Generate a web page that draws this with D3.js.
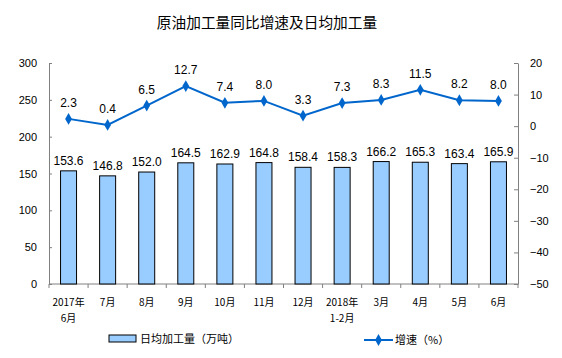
<!DOCTYPE html>
<html><head><meta charset="utf-8">
<script src="https://cdn.jsdelivr.net/npm/d3@7"></script>
<style>body{margin:0;background:#fff}svg{display:block}</style>
</head><body><svg id="c" width="562" height="358"></svg>
<script>
const categories = [["2017年","6月"],["7月"],["8月"],["9月"],["10月"],["11月"],["12月"],["2018年","1-2月"],["3月"],["4月"],["5月"],["6月"]];
const output = [153.6,146.8,152.0,164.5,162.9,164.8,158.4,158.3,166.2,165.3,163.4,165.9];
const growth = [2.3,0.4,6.5,12.7,7.4,8.0,3.3,7.3,8.3,11.5,8.2,8.0];
const leftTicks = [0,50,100,150,200,250,300];
const rightTicks = [-50,-40,-30,-20,-10,0,10,20];

const svg = d3.select("#c");
const L = 49, R = 518, T = 63, B = 284;
const font = "Arial, 'Liberation Sans', 'Noto Sans CJK SC', sans-serif";
const cjk = "'Noto Sans CJK SC', sans-serif";
const idx = d3.range(categories.length);
const x = d3.scaleBand().domain(idx).range([L, R]);
const yL = d3.scaleLinear().domain([0,300]).range([B, T]);
const yR = d3.scaleLinear().domain([-50,20]).range([B, T]);

svg.append("text").attr("x",267).attr("y",28).attr("text-anchor","middle")
  .attr("font-family",cjk).attr("font-size",14.7).attr("fill","#000").text("原油加工量同比增速及日均加工量");

// left axis
const gL = svg.append("g").attr("transform",`translate(${L},0)`)
  .call(d3.axisLeft(yL).tickValues(leftTicks).tickSize(-3).tickPadding(12).tickSizeOuter(0));
gL.select(".domain").attr("stroke","#808080");
gL.selectAll(".tick line").attr("stroke","#808080");
gL.selectAll("text").attr("font-family",font).attr("font-size",11).attr("fill","#000");

const gR = svg.append("g").attr("transform",`translate(${R},0)`)
  .call(d3.axisRight(yR).tickValues(rightTicks).tickSize(-4).tickPadding(12).tickSizeOuter(0));
gR.select(".domain").attr("stroke","#808080");
gR.selectAll(".tick line").attr("stroke","#808080");
gR.selectAll("text").attr("font-family",font).attr("font-size",11).attr("fill","#000");

// x axis
svg.append("line").attr("x1",L).attr("x2",R).attr("y1",B).attr("y2",B).attr("stroke","#808080");
svg.append("g").selectAll("line").data(d3.range(categories.length+1)).join("line")
  .attr("x1",i=>L+i*x.step()).attr("x2",i=>L+i*x.step()).attr("y1",B).attr("y2",B+4).attr("stroke","#808080");

// bars
const bw = 16;
svg.append("g").selectAll("rect").data(output).join("rect")
  .attr("x",(d,i)=>x(i)+x.bandwidth()/2-bw/2).attr("width",bw)
  .attr("y",d=>yL(d)).attr("height",d=>B-yL(d))
  .attr("fill","#99CCFF").attr("stroke","#000").attr("stroke-width",1);
svg.append("g").selectAll("text").data(output).join("text")
  .attr("x",(d,i)=>x(i)+x.bandwidth()/2).attr("y",d=>yL(d)-6)
  .attr("text-anchor","middle").attr("font-family",font).attr("font-size",12).attr("fill","#000")
  .text(d=>d.toFixed(1));

// line
const line = d3.line().x((d,i)=>x(i)+x.bandwidth()/2).y(d=>yR(d));
svg.append("path").datum(growth).attr("d",line).attr("fill","none").attr("stroke","#0066CC").attr("stroke-width",2);
const diamond = d3.symbol().type(d3.symbolDiamond).size(40);
svg.append("g").selectAll("path").data(growth).join("path")
  .attr("transform",(d,i)=>`translate(${x(i)+x.bandwidth()/2},${yR(d)})`)
  .attr("d",diamond).attr("fill","#0066CC");
svg.append("g").selectAll("text").data(growth).join("text")
  .attr("x",(d,i)=>x(i)+x.bandwidth()/2).attr("y",d=>yR(d)-12)
  .attr("text-anchor","middle").attr("font-family",font).attr("font-size",12).attr("fill","#000")
  .text(d=>d.toFixed(1));

// x labels
const xl = svg.append("g").selectAll("text").data(categories).join("text")
  .attr("x",(d,i)=>x(i)+x.bandwidth()/2).attr("y",306)
  .attr("text-anchor","middle").attr("font-family",cjk).attr("font-size",10).attr("fill","#000");
xl.each(function(d){
  const t = d3.select(this);
  d.forEach((s,j)=>t.append("tspan").attr("x",t.attr("x")).attr("dy",j?16:0).text(s));
});

// legend
svg.append("rect").attr("x",109).attr("y",335).attr("width",27).attr("height",7)
  .attr("fill","#99CCFF").attr("stroke","#000");
svg.append("text").attr("x",140).attr("y",343).attr("font-family",cjk).attr("font-size",11).attr("fill","#000").text("日均加工量（万吨）");
svg.append("line").attr("x1",364).attr("x2",393).attr("y1",340).attr("y2",340).attr("stroke","#0066CC").attr("stroke-width",2);
svg.append("path").attr("transform","translate(378.5,340)").attr("d",diamond).attr("fill","#0066CC");
svg.append("text").attr("x",395).attr("y",344).attr("font-family",cjk).attr("font-size",11).attr("fill","#000").text("增速（%）");
</script></body></html>
